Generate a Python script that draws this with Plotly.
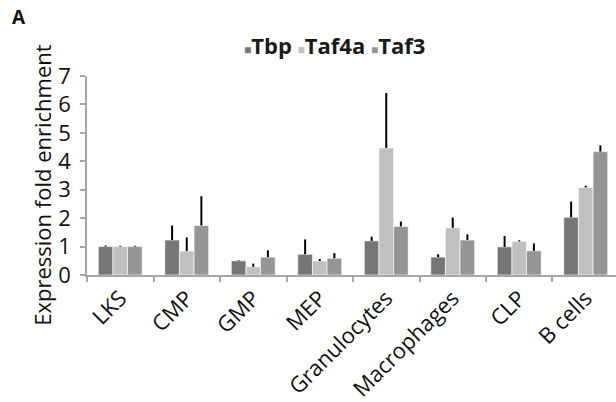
import plotly.graph_objects as go

categories = ["LKS", "CMP", "GMP", "MEP", "Granulocytes", "Macrophages", "CLP", "B cells"]
series_names = ["Tbp", "Taf4a", "Taf3"]
tbp = [1.00, 1.23, 0.50, 0.73, 1.20, 0.63, 0.99, 2.03]
taf4a = [1.00, 0.84, 0.29, 0.49, 4.47, 1.66, 1.18, 3.08]
taf3 = [1.00, 1.74, 0.63, 0.59, 1.71, 1.23, 0.85, 4.34]
tbp_err = [0.04, 0.51, 0.02, 0.52, 0.15, 0.10, 0.38, 0.55]
taf4a_err = [0.03, 0.48, 0.11, 0.07, 1.93, 0.36, 0.04, 0.06]
taf3_err = [0.03, 1.03, 0.24, 0.18, 0.17, 0.20, 0.26, 0.22]
colors = ["#767676", "#c0c0c0", "#959595"]

values = [tbp, taf4a, taf3]
errors = [tbp_err, taf4a_err, taf3_err]

FONT = "Open Sans"

fig = go.Figure()
for name, vals, errs, col in zip(series_names, values, errors, colors):
    fig.add_trace(go.Bar(
        x=categories, y=vals, name=name,
        marker=dict(color=col, line=dict(color="rgba(255,255,255,0.6)", width=1)),
        error_y=dict(type="data", symmetric=False, array=errs,
                     arrayminus=[0] * len(errs), color="black",
                     thickness=2, width=0),
        showlegend=False,
    ))

# plot area geometry (pixels)
W, H = 616, 402
L, T, B = 87, 76, 277.3
PW, PH = W - L, B - T

def px(x):
    return (x - L) / PW

def py(y):
    return (B - y) / PH

legend_text = " ".join(
    f"<span style='font-size:12px;color:{c}'>■</span>{n}" for n, c in zip(series_names, colors)
)

annotations = [
    dict(text=legend_text, xref="paper", yref="paper", x=px(334), y=py(45),
         showarrow=False, xanchor="center", yanchor="middle",
         font=dict(family=FONT, size=22, color="#1a1a1a", weight="bold")),
    dict(text="<b>A</b>", xref="paper", yref="paper", x=px(10), y=py(16),
         showarrow=False, xanchor="left", yanchor="middle",
         font=dict(family=FONT, size=19, color="#111")),
    dict(text="Expression fold enrichment", xref="paper", yref="paper",
         x=px(42), y=py(186), textangle=-90, showarrow=False,
         xanchor="center", yanchor="middle",
         font=dict(family=FONT, size=22, color="#111")),
]

fig.update_layout(
    width=W, height=H,
    margin=dict(l=L, r=0, t=T, b=H - B),
    plot_bgcolor="white", paper_bgcolor="white",
    barmode="group", bargap=0.34, bargroupgap=0,
    font=dict(family=FONT, size=22, color="#111"),
    annotations=annotations,
    shapes=[dict(type="rect", xref="paper", yref="paper",
                 x0=px(597), x1=1.02, y0=py(402), y1=py(283),
                 fillcolor="white", line=dict(width=0), layer="above")],
)
fig.update_xaxes(
    range=[-0.5, 7.455], showline=True, linecolor="#a6a6a6", linewidth=1.5,
    ticks="outside", tickson="boundaries", ticklen=5, tickcolor="#a6a6a6",
    tickwidth=1.5, tickangle=-45, showgrid=False,
    tickfont=dict(family=FONT, size=22, color="#111"),
)
fig.update_yaxes(
    range=[0, 7], dtick=1, showline=True, linecolor="#a6a6a6", linewidth=1.5,
    ticks="outside", ticklen=5, tickcolor="#a6a6a6", tickwidth=1.5,
    showgrid=False, zeroline=False, ticklabelstandoff=5,
    tickfont=dict(family=FONT, size=22, color="#111"),
)

fig.write_html("out.html")
